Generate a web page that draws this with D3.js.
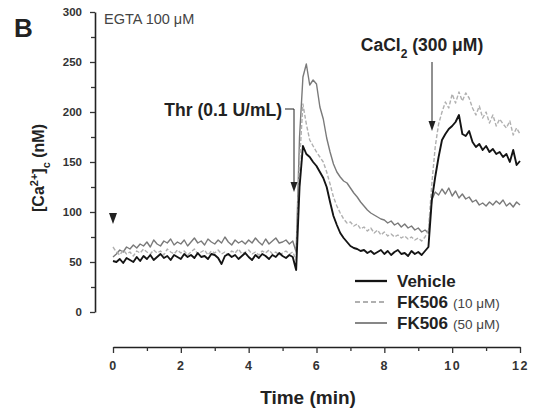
<!DOCTYPE html>
<html><head><meta charset="utf-8">
<script src="https://cdn.jsdelivr.net/npm/d3@7"></script>
<style>
body{margin:0;background:#fff;}
svg text{font-family:"Liberation Sans",Arial,sans-serif;}
</style></head>
<body><svg id="c" width="535" height="412"></svg>
<script>
// time grid (min), one sample every 0.1 min
const times = d3.range(0, 121).map(i => i / 10);
const vehicle = [
 51,50,53,49,54,52,50,55,51,56,
 53,57,52,55,58,54,56,52,57,55,
 53,58,55,57,54,59,55,56,53,58,
 57,54,48,56,58,55,57,53,56,59,
 55,52,57,54,58,56,53,57,55,59,
 56,54,57,55,42,125,166,158,155,150,
 146,140,134,125,110,96,87,79,74,70,
 66,64,63,61,62,59,61,58,60,62,
 58,61,57,60,62,58,59,56,61,58,
 60,57,61,65,112,135,155,172,178,183,
 186,190,197,178,176,181,170,165,168,162,
 166,160,163,158,160,155,158,150,162,147,
 151];
const fk10 = [
 65,60,57,62,58,60,56,61,59,63,
 60,58,62,59,61,57,63,60,58,62,
 59,61,57,60,63,58,60,62,57,61,
 59,62,58,60,57,61,59,63,58,60,
 62,58,60,57,61,59,62,58,60,57,
 59,61,58,60,52,150,208,188,172,166,
 160,155,150,140,128,115,106,99,93,89,
 90,86,88,83,85,81,84,79,82,77,
 80,76,78,75,77,74,76,73,75,72,
 74,71,75,82,128,165,188,200,210,204,
 218,209,220,211,219,214,204,197,206,194,
 200,189,197,186,193,188,184,191,177,184,
 178];
const fk50 = [
 55,58,62,60,65,63,67,64,68,66,
 70,65,72,68,66,71,69,73,67,70,
 68,72,66,70,74,69,71,67,73,70,
 68,72,69,75,70,67,72,69,71,68,
 72,69,74,70,67,73,68,71,74,69,
 70,72,68,71,60,175,235,248,227,232,
 228,205,193,174,160,148,140,135,131,129,
 124,119,115,110,106,102,99,97,95,93,
 92,89,91,87,89,85,88,84,86,82,
 84,80,82,79,112,120,117,123,118,124,
 116,121,114,118,113,115,110,112,107,109,
 106,110,107,111,108,112,106,109,105,110,
 107];
const yTicks = [0,50,100,150,200,250,300];
const yMinor = [25,75,125,175,225,275];
const xTicks = [0,2,4,6,8,10,12];
const xMinor = [1,3,5,7,9,11];
const seriesNames = ["Vehicle","FK506","FK506"];
const seriesConc = ["","(10 \u03BCM)","(50 \u03BCM)"];

const svg = d3.select("#c");
const x = d3.scaleLinear().domain([0,12]).range([113,520]);
const y = d3.scaleLinear().domain([0,300]).range([312,12]);

// axes
const yAx = svg.append("g").attr("transform","translate(95,0)")
  .call(d3.axisLeft(y).tickValues(yTicks).tickSize(5).tickSizeOuter(0).tickPadding(8));
svg.append("g").attr("transform","translate(95,0)")
  .call(d3.axisLeft(y).tickValues(yMinor).tickSize(4).tickFormat(""))
  .call(g=>g.select(".domain").remove());
const xAx = svg.append("g").attr("transform","translate(0,347)")
  .call(d3.axisBottom(x).tickValues(xTicks).tickSize(6).tickSizeOuter(0).tickPadding(8));
svg.append("g").attr("transform","translate(0,347)")
  .call(d3.axisBottom(x).tickValues(xMinor).tickSize(4).tickFormat(""))
  .call(g=>g.select(".domain").remove());
svg.selectAll(".domain").attr("stroke","#222").attr("stroke-width",1.6);
svg.selectAll(".tick line").attr("stroke","#333").attr("stroke-width",1.3);
svg.selectAll(".tick text").attr("font-family","Liberation Sans, Arial, sans-serif")
  .attr("font-weight","bold").attr("font-size",11.5).attr("fill","#333");
xAx.selectAll(".tick text").attr("letter-spacing",1.5).attr("font-size",12.5);

// lines
const line = d3.line().x((d,i)=>x(times[i])).y(d=>y(d));
const styles = [
  {data:fk50, color:"#7a7a7a", w:1.4, dash:null},
  {data:fk10, color:"#b0b0b0", w:1.4, dash:"4,2"},
  {data:vehicle, color:"#141414", w:1.9, dash:null}
];
styles.forEach(s=>{
  svg.append("path").datum(s.data).attr("d",line).attr("fill","none")
    .attr("stroke",s.color).attr("stroke-width",s.w)
    .attr("stroke-linejoin","round")
    .attr("stroke-dasharray",s.dash);
});

// panel label and texts
svg.append("text").attr("x",14).attr("y",37).attr("font-size",26)
  .attr("font-weight","bold").attr("fill","#222").text("B");
svg.append("text").attr("x",104).attr("y",24).attr("font-size",14.5)
  .attr("fill","#444").text("EGTA 100 \u03BCM");

// y label
const yl = svg.append("text").attr("transform","translate(44,168) rotate(-90)")
  .attr("text-anchor","middle").attr("font-size",16).attr("font-weight","bold").attr("fill","#222");
yl.append("tspan").text("[Ca");
yl.append("tspan").attr("baseline-shift","super").attr("font-size",11).text("2+");
yl.append("tspan").text("]");
yl.append("tspan").attr("baseline-shift","sub").attr("font-size",11).text("c");
yl.append("tspan").text(" (nM)");

// x label
svg.append("text").attr("x",308).attr("y",404).attr("text-anchor","middle")
  .attr("font-size",19).attr("font-weight","bold").attr("fill","#222").text("Time (min)");

// stimulus marker
svg.append("path").attr("d","M109,213 L117,213 L113,224 Z").attr("fill","#222");

// Thr annotation
svg.append("text").attr("x",282).attr("y",116).attr("text-anchor","end")
  .attr("font-size",17.5).attr("font-weight","bold").attr("fill","#222").text("Thr (0.1 U/mL)");
svg.append("path").attr("d","M285,109 H294 V184").attr("fill","none").attr("stroke","#222").attr("stroke-width",1);
svg.append("path").attr("d","M290.5,182 L297.5,182 L294,192 Z").attr("fill","#222");

// CaCl2 annotation
const ca = svg.append("text").attr("x",422).attr("y",51).attr("text-anchor","middle")
  .attr("font-size",17.5).attr("font-weight","bold").attr("fill","#222");
ca.append("tspan").text("CaCl");
ca.append("tspan").attr("baseline-shift","sub").attr("font-size",12).text("2");
ca.append("tspan").text(" (300 \u03BCM)");
svg.append("path").attr("d","M432,62 V123").attr("fill","none").attr("stroke","#222").attr("stroke-width",1);
svg.append("path").attr("d","M428.5,121 L435.5,121 L432,131 Z").attr("fill","#222");

// legend
const legY = [281,302,323];
const legStyle = [styles[2],styles[1],styles[0]];
legY.forEach((ly,i)=>{
  const s = legStyle[i];
  svg.append("line").attr("x1",355).attr("x2",387).attr("y1",ly).attr("y2",ly)
    .attr("stroke",s.color).attr("stroke-width",s.w+0.4).attr("stroke-dasharray",s.dash ? "5,3" : null);
  const t = svg.append("text").attr("x",397).attr("y",ly+6).attr("font-size",17)
    .attr("font-weight","bold").attr("fill","#222");
  t.append("tspan").text(seriesNames[i]);
  if (seriesConc[i]) t.append("tspan").attr("font-weight","normal").attr("font-size",13.5)
     .attr("fill","#444").attr("dx",5).text(seriesConc[i]);
});
</script></body></html>
